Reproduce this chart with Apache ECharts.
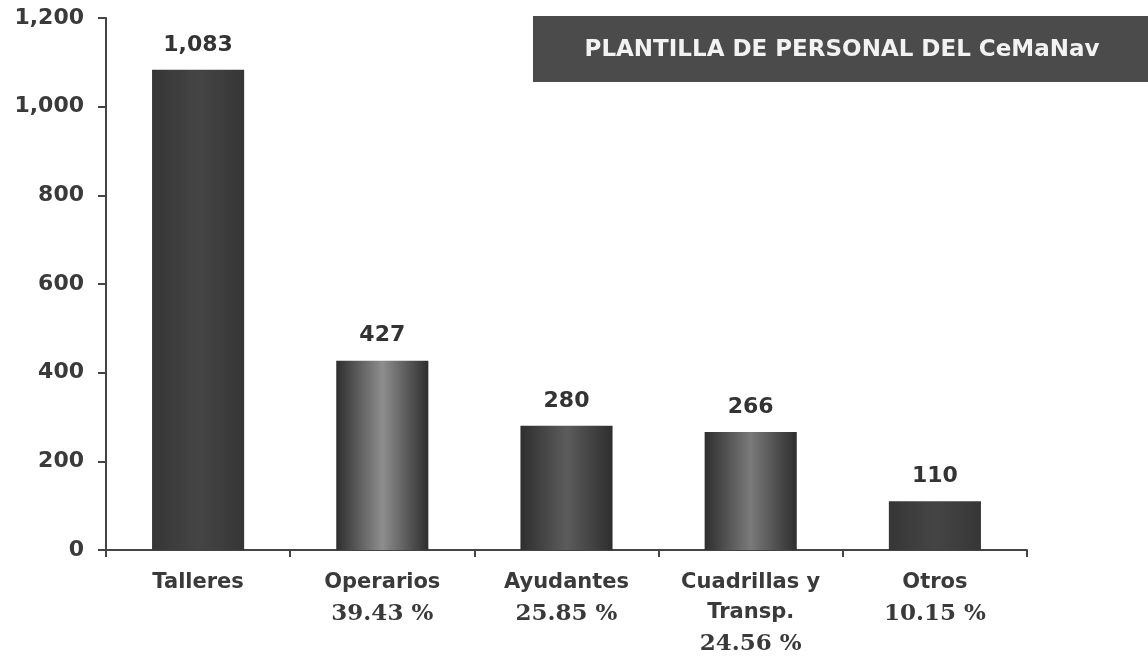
<!DOCTYPE html>
<html>
<head>
<meta charset="utf-8">
<style>
  html, body { margin: 0; padding: 0; background: #fff; }
  #chart { width: 1148px; height: 662px; }
</style>
<script src="https://cdn.jsdelivr.net/npm/echarts@6/dist/echarts.min.js"></script>
</head>
<body>
<div id="chart"></div>
<script>
var categories = ['Talleres', 'Operarios', 'Ayudantes', 'Cuadrillas y\nTransp.', 'Otros']
var percents = ['', '39.43 %', '25.85 %', '24.56 %', '10.15 %']
var values = [1083, 427, 280, 266, 110]
var yTicks = [0, 200, 400, 600, 800, 1000, 1200]

// cylinder-ish shading, lighter middle for some bars like the scan
var barFill = function (edge, mid) {
  return new echarts.graphic.LinearGradient(0, 0, 1, 0, [
    { offset: 0, color: edge },
    { offset: 0.5, color: mid },
    { offset: 1, color: edge }
  ])
}
var edges = ['#363636', '#2e2e2e', '#2e2e2e', '#2e2e2e', '#363636']
var mids = ['#454545', '#8e8e8e', '#5c5c5c', '#7a7a7a', '#454545']

var sans = '"DejaVu Sans", Verdana, sans-serif'
var serif = '"DejaVu Serif", "Times New Roman", serif'

var chart = echarts.init(document.getElementById('chart'))

chart.setOption({
  backgroundColor: '#ffffff',
  animation: false,
  grid: {
    left: 106,
    right: 121,
    top: 18,
    bottom: 112
  },
  graphic: [
    {
      type: 'rect',
      shape: { x: 533, y: 16, width: 615, height: 66 },
      style: { fill: '#4b4b4b' }
    },
    {
      type: 'text',
      x: 842,
      y: 50,
      style: {
        text: 'PLANTILLA DE PERSONAL DEL CeMaNav',
        fill: '#f2f2f2',
        font: 'bold 23px ' + sans,
        align: 'center',
        verticalAlign: 'middle'
      }
    }
  ],
  xAxis: {
    type: 'category',
    data: categories,
    axisLine: { lineStyle: { color: '#444', width: 2 } },
    axisTick: { show: true, length: 7, lineStyle: { color: '#444', width: 2 } },
    axisLabel: {
      margin: 18,
      interval: 0,
      formatter: function (val, i) {
        var name = val.split('\n').map(function (s) { return '{n|' + s + '}' }).join('\n')
        return percents[i] ? name + '\n{p|' + percents[i] + '}' : name
      },
      rich: {
        n: {
          fontFamily: sans,
          fontWeight: 'bold',
          fontSize: 21,
          color: '#3a3a3a',
          lineHeight: 30
        },
        p: {
          fontFamily: serif,
          fontWeight: 'bold',
          fontSize: 23,
          color: '#3a3a3a',
          lineHeight: 32
        }
      }
    }
  },
  yAxis: {
    type: 'value',
    min: 0,
    max: yTicks[yTicks.length - 1],
    interval: yTicks[1] - yTicks[0],
    axisLine: { show: true, lineStyle: { color: '#444', width: 2 } },
    axisTick: { show: true, length: 8, lineStyle: { color: '#444', width: 2 } },
    splitLine: { show: false },
    axisLabel: {
      margin: 22,
      fontFamily: sans,
      fontWeight: 'bold',
      fontSize: 22,
      color: '#3a3a3a',
      formatter: function (v) { return v.toLocaleString('en-US') }
    }
  },
  series: [
    {
      type: 'bar',
      barWidth: '50%',
      data: values.map(function (v, i) {
        return { value: v, itemStyle: { color: barFill(edges[i], mids[i]) } }
      }),
      label: {
        show: true,
        position: 'top',
        distance: 14,
        fontFamily: sans,
        fontWeight: 'bold',
        fontSize: 22,
        color: '#333',
        formatter: function (p) { return p.value.toLocaleString('en-US') }
      }
    }
  ]
})
</script>
</body>
</html>
